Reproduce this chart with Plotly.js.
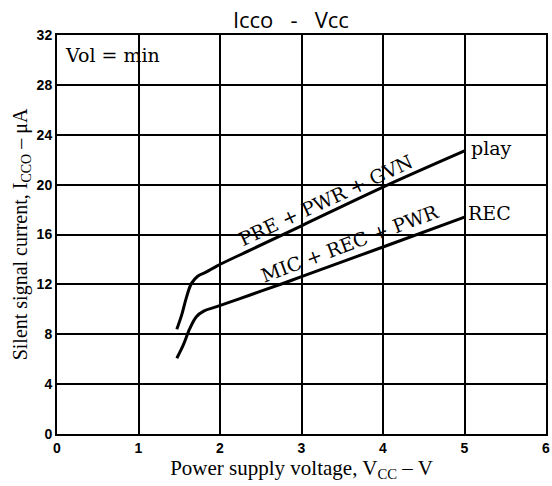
<!DOCTYPE html>
<html>
<head>
<meta charset="utf-8">
<script src="https://cdn.plot.ly/plotly-3.0.1.min.js"></script>
<style>html,body{margin:0;padding:0;background:#fff;}#chart{width:552px;height:486px;}</style>
</head>
<body>
<div id="chart"></div>
<script>
// Data
const playV = [1.47, 1.53, 1.59, 1.65, 1.73, 1.84, 1.96, 2.37, 3.0, 4.0, 5.0];
const playI = [8.4, 9.55, 11.0, 12.08, 12.67, 13.02, 13.47, 14.75, 16.7, 19.8, 22.7];
const recV  = [1.47, 1.55, 1.63, 1.71, 1.80, 1.96, 2.37, 2.78, 3.0, 4.0, 5.0];
const recI  = [6.07, 7.14, 8.47, 9.41, 9.86, 10.21, 11.15, 12.09, 12.62, 15.0, 17.4];
const xTicks = [0, 1, 2, 3, 4, 5, 6];
const yTicks = [0, 4, 8, 12, 16, 20, 24, 28, 32];
const seriesNames = ["play", "REC"];
const curveLabels = ["PRE + PWR + GVN", "MIC + REC + PWR"];

const serif = "Liberation Serif, Times New Roman, serif";
const wideSerif = "DejaVu Serif, serif";
const lineStyle = {color: "#000", width: 3, shape: "spline", smoothing: 1};

const traces = [
  {x: playV, y: playI, mode: "lines", line: lineStyle, name: seriesNames[0], hoverinfo: "skip"},
  {x: recV, y: recI, mode: "lines", line: lineStyle, name: seriesNames[1], hoverinfo: "skip"}
];

const tickFont = {family: "Liberation Sans, Arial, sans-serif", size: 14, color: "#000", weight: "bold"};
const labelFont = {family: wideSerif, size: 19, color: "#000"};

const layout = {
  width: 552, height: 486,
  margin: {l: 57, r: 6, t: 35, b: 52},
  paper_bgcolor: "#fff", plot_bgcolor: "#fff",
  showlegend: false,
  title: {
    text: "Icco\u00a0\u00a0\u00a0-\u00a0\u00a0\u00a0Vcc",
    font: {family: "Open Sans, sans-serif", size: 22, color: "#000"},
    x: 0.527, xanchor: "center", xref: "container",
    y: 0.958, yanchor: "middle", yref: "container"
  },
  xaxis: {
    range: [0, 6], tickvals: xTicks, ticktext: xTicks.map(String),
    showgrid: true, gridcolor: "#000", gridwidth: 2,
    zeroline: false, showline: true, linecolor: "#000", linewidth: 2, mirror: true,
    ticks: "", fixedrange: true, tickfont: tickFont,
    title: {text: "Power supply voltage, V<sub>CC</sub> \u2013 V", standoff: 2,
            font: {family: serif, size: 21, color: "#000"}}
  },
  yaxis: {
    range: [0, 32], tickvals: yTicks, ticktext: yTicks.map(String),
    showgrid: true, gridcolor: "#000", gridwidth: 2,
    zeroline: false, showline: true, linecolor: "#000", linewidth: 2, mirror: true,
    ticks: "", fixedrange: true, tickfont: tickFont,
    title: {text: "Silent signal current, I<sub>CCO</sub> \u2013 \u03bcA", standoff: 4,
            font: {family: serif, size: 20, color: "#000"}}
  },
  annotations: [
    {x: 0.012, y: 0.95, xref: "paper", yref: "paper", xanchor: "left", yanchor: "middle",
     text: "Vol = min", showarrow: false, font: labelFont},
    {x: 5.06, y: 22.9, xref: "x", yref: "y", xanchor: "left", yanchor: "middle",
     text: seriesNames[0], showarrow: false, font: labelFont},
    {x: 5.02, y: 17.7, xref: "x", yref: "y", xanchor: "left", yanchor: "middle",
     text: seriesNames[1], showarrow: false, font: labelFont},
    {x: 3.3, y: 18.8, xref: "x", yref: "y", xanchor: "center", yanchor: "middle",
     text: curveLabels[0], showarrow: false, textangle: -25, font: labelFont},
    {x: 3.6, y: 15.3, xref: "x", yref: "y", xanchor: "center", yanchor: "middle",
     text: curveLabels[1], showarrow: false, textangle: -20.5, font: labelFont}
  ]
};

Plotly.newPlot("chart", traces, layout, {displayModeBar: false, staticPlot: true});
</script>
</body>
</html>
